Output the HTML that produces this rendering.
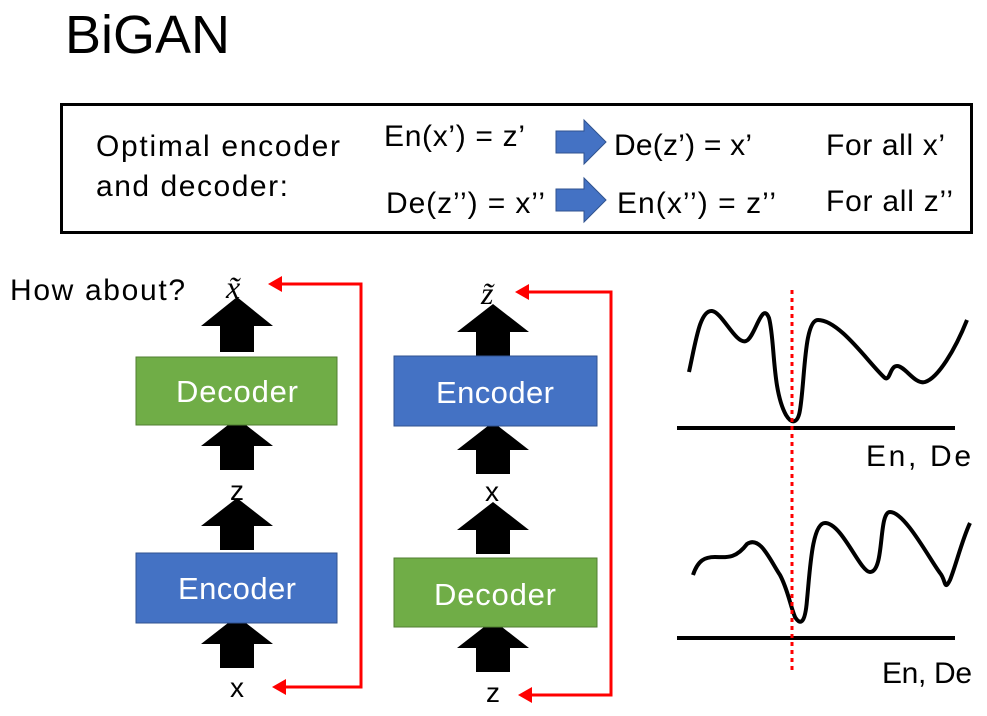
<!DOCTYPE html>
<html><head><meta charset="utf-8"><style>
body{margin:0;background:#fff;width:987px;height:711px;overflow:hidden;font-family:"Liberation Sans",sans-serif;}
</style></head><body>
<svg width="987" height="711" viewBox="0 0 987 711" xmlns="http://www.w3.org/2000/svg" font-family="Liberation Sans, sans-serif">
<text x="65" y="53" font-size="54" fill="#000" textLength="165" lengthAdjust="spacingAndGlyphs">BiGAN</text>
<rect x="61.5" y="104.5" width="910" height="128" fill="none" stroke="#000" stroke-width="3"/>
<g font-size="30" fill="#000" lengthAdjust="spacingAndGlyphs">
<text x="96" y="156" textLength="244">Optimal encoder</text>
<text x="96" y="196" textLength="192">and decoder:</text>
<text x="384" y="146" textLength="141">En(x’) = z’</text>
<text x="614" y="155" textLength="138">De(z’) = x’</text>
<text x="826" y="155" textLength="119">For all x’</text>
<text x="386" y="213" textLength="159">De(z’’) = x’’</text>
<text x="617" y="213" textLength="159">En(x’’) = z’’</text>
<text x="826" y="211" textLength="127">For all z’’</text>
<text x="10" y="300" textLength="175">How about?</text>
<text x="866" y="466" textLength="105">En, De</text>
<text x="882" y="683" textLength="90">En, De</text>
</g>
<path d="M556,131h28v-11l22,22-22,22v-11h-28z" fill="#4472C4" stroke="#2F528F"/>
<path d="M556,189h28v-11l22,22-22,22v-11h-28z" fill="#4472C4" stroke="#2F528F"/>
<text x="226" y="298" font-size="32" font-style="italic" font-family="Liberation Serif, serif">x̃</text>
<text x="481" y="304" font-size="32" font-style="italic" font-family="Liberation Serif, serif">z̃</text>
<g fill="#000">
<path d="M220,352v-26h-19l36,-29 36,29h-19v26z"/>
<path d="M220,470v-24h-19l36,-28 36,28h-19v24z"/>
<path d="M220,550v-24h-19l36,-28 36,28h-19v24z"/>
<path d="M220,668v-24h-19l36,-28 36,28h-19v24z"/>
<path d="M476,358v-26h-19l36,-28 36,28h-19v26z"/>
<path d="M476,474v-24h-19l36,-28 36,28h-19v24z"/>
<path d="M476,554v-24h-19l36,-28 36,28h-19v24z"/>
<path d="M476,672v-24h-19l36,-28 36,28h-19v24z"/>
</g>
<g font-size="31" fill="#fff" lengthAdjust="spacingAndGlyphs">
<rect x="136" y="357" width="201" height="68" fill="#70AD47" stroke="#507E32"/>
<text x="176" y="402" textLength="122">Decoder</text>
<rect x="136" y="553" width="201" height="70" fill="#4472C4" stroke="#2F528F"/>
<text x="178" y="599" textLength="118">Encoder</text>
<rect x="394" y="356" width="203" height="70" fill="#4472C4" stroke="#2F528F"/>
<text x="436" y="403" textLength="118">Encoder</text>
<rect x="394" y="558" width="203" height="69" fill="#70AD47" stroke="#507E32"/>
<text x="434" y="605" textLength="122">Decoder</text>
</g>
<g font-size="28" fill="#000" text-anchor="middle">
<text x="237" y="500">z</text>
<text x="237" y="697">x</text>
<text x="492" y="501">x</text>
<text x="493" y="702">z</text>
</g>
<g stroke="#f00" stroke-width="3" fill="none">
<path d="M280,284H361V687H284"/>
<path d="M527,292H611V695H530"/>
</g>
<g fill="#f00">
<path d="M268,284l14,-8v16z"/>
<path d="M272,687l14,-8v16z"/>
<path d="M515,292l14,-8v16z"/>
<path d="M518,695l14,-8v16z"/>
</g>
<g stroke="#000" stroke-width="4" fill="none" stroke-linecap="butt">
<line x1="677" y1="428" x2="955" y2="428"/>
<line x1="677" y1="638" x2="955" y2="638"/>
<path d="M689,372C696,340 700,310 712,311C722,312 736,345 746,341C755,338 762,300 769,318C775,340 772,390 786,415C792,425 798,423 800,410C805,380 804,320 818,320C840,320 870,365 885,378C890,381 890,366 897,366C905,366 915,385 925,382C938,378 955,350 967,320"/>
<path d="M693,575C698,560 705,557 715,557C725,557 735,560 747,544C760,535 770,560 780,575C788,590 790,605 795,617C800,625 805,625 807,600C810,570 812,523 825,523C842,523 860,572 870,572C885,572 878,512 890,512C905,512 930,560 940,573C946,580 944,592 950,580C956,565 962,540 970,523"/>
</g>
<line x1="792" y1="290" x2="792" y2="670" stroke="#f00" stroke-width="3" stroke-dasharray="4,4"/>
</svg>
</body></html>
